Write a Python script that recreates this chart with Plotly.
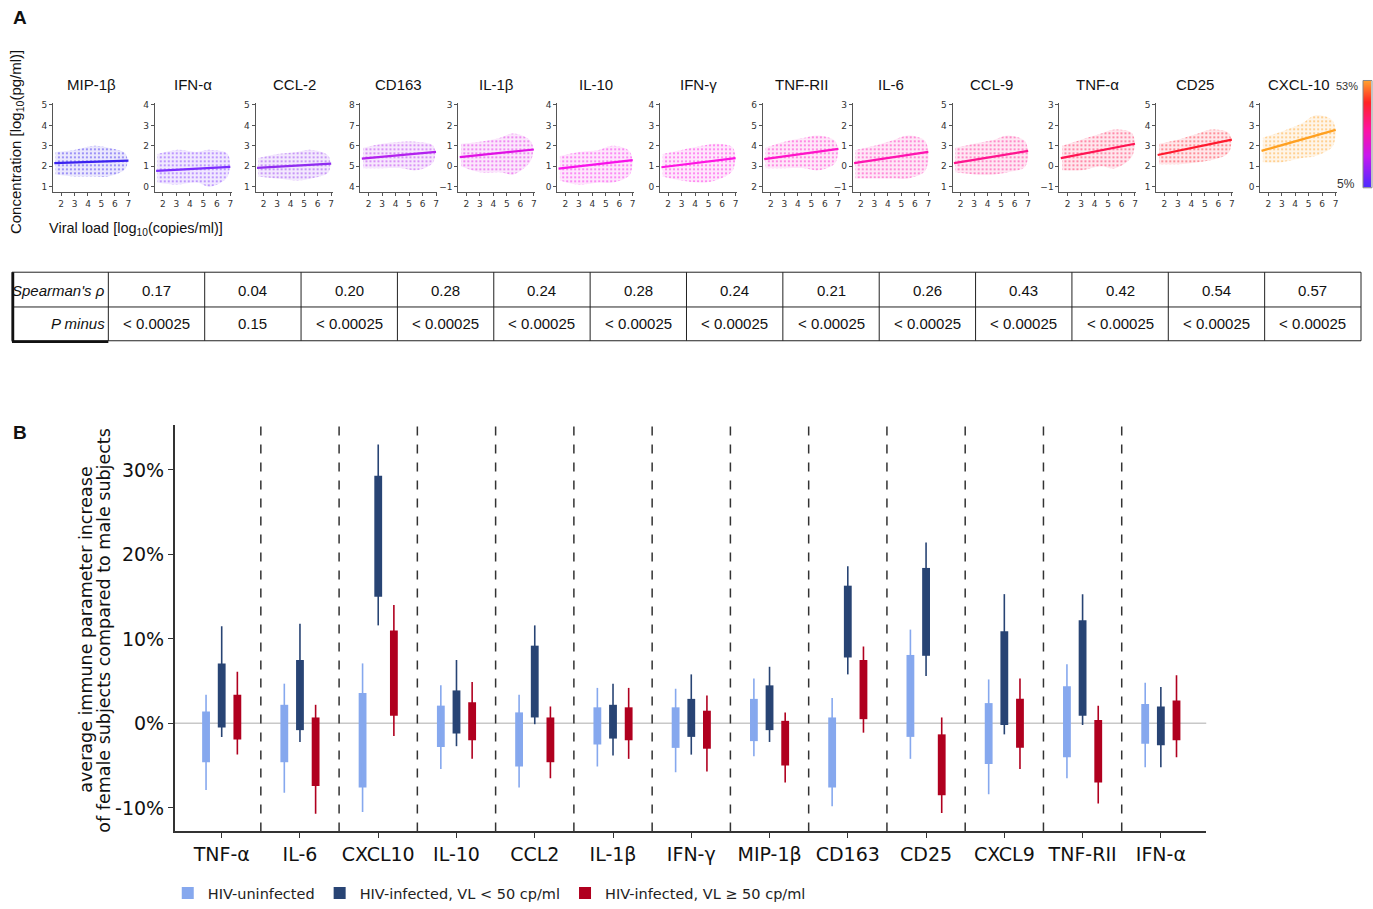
import plotly.graph_objects as go

W, H = 1373, 909

# ---------------- Panel A data ----------------
a_names = ["MIP-1β", "IFN-α", "CCL-2", "CD163", "IL-1β", "IL-10", "IFN-γ",
           "TNF-RII", "IL-6", "CCL-9", "TNF-α", "CD25", "CXCL-10"]
a_ytick_min = [1, 0, 1, 4, -1, 0, 0, 2, -1, 1, -1, 1, 0]
a_ytick_max = [5, 4, 5, 8, 3, 4, 4, 6, 3, 5, 3, 5, 4]
a_line_x = [1.5, 7.0]
a_line_start = [2.15, 0.77, 1.92, 5.37, 0.45, 0.88, 0.95, 3.35, 0.15, 2.15, 0.40, 2.55, 1.75]
a_line_end = [2.27, 0.97, 2.13, 5.70, 0.82, 1.30, 1.40, 3.85, 0.70, 2.75, 1.10, 3.30, 2.78]
cloud_x = [1.6, 3.0, 4.5, 5.5, 6.8]
cloud_lo = [[1.6, 1.5, 1.5, 1.5, 1.9], [0.2, 0.1, 0.2, 0.0, 0.5], [1.5, 1.4, 1.3, 1.4, 1.7],
            [4.9, 4.9, 4.9, 4.8, 5.2], [0.0, -0.3, -0.3, -0.4, 0.3], [0.3, 0.1, 0.2, 0.2, 0.6],
            [0.5, 0.3, 0.2, 0.3, 0.8], [2.9, 2.9, 2.9, 2.8, 3.2], [-0.6, -0.6, -0.6, -0.6, -0.2],
            [1.7, 1.6, 1.6, 1.7, 2.0], [-0.2, -0.2, 0.0, -0.1, 0.5], [2.1, 2.1, 2.2, 2.3, 2.7],
            [1.2, 1.2, 1.4, 1.5, 2.0]]
cloud_hi = [[2.7, 2.8, 3.0, 2.9, 2.6], [1.6, 1.8, 1.7, 1.8, 1.6], [2.4, 2.6, 2.7, 2.8, 2.5],
            [5.9, 6.1, 6.2, 6.2, 6.0], [1.1, 1.2, 1.4, 1.6, 1.2], [1.5, 1.7, 1.8, 2.0, 1.7],
            [1.6, 1.8, 2.0, 2.1, 1.9], [3.9, 4.2, 4.4, 4.5, 4.2], [0.8, 1.0, 1.3, 1.5, 1.2],
            [2.9, 3.1, 3.3, 3.5, 3.2], [1.0, 1.3, 1.6, 1.8, 1.6], [3.1, 3.3, 3.6, 3.8, 3.6],
            [2.4, 2.7, 3.1, 3.5, 3.2]]
a_colors = ["#3a22f0", "#7a2cff", "#8f2cf0", "#b222ee", "#e012e4", "#f812ea", "#ff14e2",
            "#ff14c8", "#ff14b0", "#ff148e", "#ff1452", "#ff1a2e", "#ffa020"]
cbar_min, cbar_max = 5, 53

spearman = ["0.17", "0.04", "0.20", "0.28", "0.24", "0.28", "0.24", "0.21", "0.26",
            "0.43", "0.42", "0.54", "0.57"]
pvals = ["< 0.00025", "0.15", "< 0.00025", "< 0.00025", "< 0.00025", "< 0.00025",
         "< 0.00025", "< 0.00025", "< 0.00025", "< 0.00025", "< 0.00025", "< 0.00025",
         "< 0.00025"]

# ---------------- Panel B data ----------------
b_cats = ["TNF-α", "IL-6", "CXCL10", "IL-10", "CCL2", "IL-1β", "IFN-γ", "MIP-1β",
          "CD163", "CD25", "CXCL9", "TNF-RII", "IFN-α"]
uninf_box_hi = [1.4, 2.2, 3.6, 2.1, 1.3, 1.9, 1.9, 2.9, 0.7, 8.1, 2.4, 4.4, 2.3]
uninf_box_lo = [-4.6, -4.6, -7.6, -2.8, -5.1, -2.5, -2.9, -2.1, -7.6, -1.6, -4.8, -4.0, -2.4]
uninf_wh_hi = [3.4, 4.7, 7.1, 4.5, 3.4, 4.2, 4.1, 5.3, 3.0, 11.1, 5.2, 7.0, 4.8]
uninf_wh_lo = [-7.9, -8.2, -10.5, -5.4, -7.6, -5.1, -5.8, -3.9, -9.8, -4.2, -8.4, -6.5, -5.2]

low_box_hi = [7.1, 7.5, 29.3, 3.9, 9.2, 2.2, 2.9, 4.5, 16.3, 18.4, 10.9, 12.2, 2.0]
low_box_lo = [-0.5, -0.8, 15.0, -1.2, 0.7, -1.8, -1.6, -0.8, 7.8, 8.0, -0.2, 0.9, -2.6]
low_wh_hi = [11.5, 11.8, 33.0, 7.5, 11.6, 4.7, 5.8, 6.7, 18.6, 21.4, 15.3, 15.3, 4.3]
low_wh_lo = [-1.6, -2.2, 11.6, -2.7, -0.1, -3.8, -3.7, -2.2, 5.8, 5.6, -1.3, -0.2, -5.2]

high_box_hi = [3.4, 0.7, 11.0, 2.5, 0.7, 1.9, 1.5, 0.3, 7.5, -1.3, 2.9, 0.4, 2.7]
high_box_lo = [-1.9, -7.4, 0.9, -2.0, -4.6, -2.0, -3.0, -5.0, 0.5, -8.5, -2.9, -7.0, -2.0]
high_wh_hi = [6.1, 2.2, 14.0, 4.9, 2.0, 4.2, 3.3, 1.3, 9.1, 0.7, 5.3, 2.1, 5.7]
high_wh_lo = [-3.7, -10.7, -1.5, -4.2, -6.5, -4.2, -5.7, -7.0, -1.1, -10.6, -5.4, -9.5, -4.0]

groups = [
    ("HIV-uninfected", "#86a8ee", uninf_box_lo, uninf_box_hi, uninf_wh_lo, uninf_wh_hi, -0.2),
    ("HIV-infected, VL < 50 cp/ml", "#284474", low_box_lo, low_box_hi, low_wh_lo, low_wh_hi, 0.0),
    ("HIV-infected, VL ≥ 50 cp/ml", "#b0001f", high_box_lo, high_box_hi, high_wh_lo, high_wh_hi, 0.2),
]


def px(x):
    return x / W


def py(y):
    return 1 - y / H


def rgba(hexc, a):
    h = hexc.lstrip("#")
    r, g, b = int(h[0:2], 16), int(h[2:4], 16), int(h[4:6], 16)
    return f"rgba({r},{g},{b},{a})"


fig = go.Figure()
layout = {}
annotations = []
shapes = []


def note(text, x, y, size, family, color="#111", xanchor="center", angle=0):
    annotations.append(dict(text=text, x=px(x), y=py(y), xref="paper", yref="paper",
                            xanchor=xanchor, yanchor="middle", showarrow=False, textangle=angle,
                            font=dict(size=size, family=family, color=color)))


FA = "Liberation Sans, Arial, sans-serif"
FB = "DejaVu Sans, sans-serif"

# ---------------- Panel A ----------------
a_left = [53, 155, 256, 361, 459, 558, 661, 764, 854, 954, 1061, 1158, 1262]
a_w = 77
a_top, a_bot = 101, 190
for k, name in enumerate(a_names):
    n = k + 2
    xa, ya = f"x{n}", f"y{n}"
    col = a_colors[k]
    fig.add_trace(go.Scatter(
        x=cloud_x + cloud_x[::-1],
        y=cloud_hi[k] + cloud_lo[k][::-1],
        fill="toself", mode="lines", line=dict(width=0, shape="spline"),
        fillcolor=rgba(col, 0.12),
        fillpattern=dict(shape=".", fgcolor=col, bgcolor=rgba(col, 0.10), size=4, solidity=0.22,
                         fgopacity=0.55),
        xaxis=xa, yaxis=ya, showlegend=False, hoverinfo="skip"))
    fig.add_trace(go.Scatter(
        x=a_line_x, y=[a_line_start[k], a_line_end[k]], mode="lines",
        line=dict(color=col, width=2.2), xaxis=xa, yaxis=ya, showlegend=False))
    layout[f"xaxis{n}"] = dict(
        domain=[px(a_left[k]), px(a_left[k] + a_w)], anchor=ya, range=[1.4, 7.1],
        tickvals=[2, 3, 4, 5, 6, 7], showline=True, linecolor="#555", linewidth=1,
        ticks="outside", ticklen=3, tickcolor="#555", showgrid=False, zeroline=False,
        tickfont=dict(size=9, color="#333", family=FB))
    layout[f"yaxis{n}"] = dict(
        domain=[py(a_bot), py(a_top)], anchor=xa,
        range=[a_ytick_min[k] - 0.25, a_ytick_max[k] + 0.08],
        tickvals=list(range(a_ytick_min[k], a_ytick_max[k] + 1)),
        showline=True, linecolor="#555", linewidth=1, ticks="outside", ticklen=3,
        tickcolor="#555", showgrid=False, zeroline=False,
        tickfont=dict(size=9, color="#333", family=FB))
    note(name, a_left[k] + a_w / 2, 82, 15, FA)

# colour bar
fig.add_trace(go.Heatmap(z=[[cbar_min, cbar_min], [cbar_max, cbar_max]], x=[0, 1],
                         y=[cbar_min, cbar_max], zsmooth="best", showscale=False,
                         colorscale=[[0, "#4a2cff"], [0.3, "#c818f0"], [0.55, "#ff14a0"],
                                     [0.8, "#ff2424"], [1, "#ffa030"]],
                         xaxis="x15", yaxis="y15", hoverinfo="skip"))
layout["xaxis15"] = dict(domain=[px(1365), 1], anchor="y15", visible=False, range=[0, 1])
layout["yaxis15"] = dict(domain=[py(186), py(78)], anchor="x15", visible=False,
                         range=[cbar_min, cbar_max])
shapes.append(dict(type="rect", xref="paper", yref="paper", x0=px(1365), x1=px(1374),
                   y0=py(186), y1=py(78), line=dict(color="#888", width=1)))
note("53%", 1362, 84, 11, FA, "#333", "right")
note("5%", 1359, 182, 12, FA, "#333", "right")

note("<b>A</b>", 11, 15, 19, FA, "#111", "left")
note("Concentration [log<sub>10</sub>(pg/ml)]", 16, 140, 15, FA, angle=-90)
note("Viral load [log<sub>10</sub>(copies/ml)]", 47, 227, 14.5, FA, "#111", "left")

# ---------------- Table ----------------
t_left, t_right = 12, 1363
t_rows = [271, 306, 340]
ncol = 14
cw = (t_right - t_left) / ncol
for yv in t_rows:
    shapes.append(dict(type="line", xref="paper", yref="paper", x0=px(t_left), x1=px(t_right),
                       y0=py(yv), y1=py(yv), line=dict(color="#222", width=1)))
for c in range(ncol + 1):
    xv = t_left + c * cw
    shapes.append(dict(type="line", xref="paper", yref="paper", x0=px(xv), x1=px(xv),
                       y0=py(t_rows[0]), y1=py(t_rows[-1]), line=dict(color="#222", width=1)))
shapes.append(dict(type="line", xref="paper", yref="paper", x0=px(t_left + 1), x1=px(t_left + 1),
                   y0=py(t_rows[0]), y1=py(t_rows[-1] + 1), line=dict(color="#111", width=2.5)))
shapes.append(dict(type="line", xref="paper", yref="paper", x0=px(t_left), x1=px(t_left + cw),
                   y0=py(t_rows[-1] + 1), y1=py(t_rows[-1] + 1), line=dict(color="#111", width=2.5)))
FT = "Liberation Sans Narrow, Arial Narrow, Liberation Sans, sans-serif"
note("<i>Spearman's ρ</i>", t_left + cw - 1, 289, 15, FT, "#111", "right")
note("<i>P minus</i>", t_left + cw - 1, 323, 15, FT, "#111", "right")
for c in range(13):
    xc = t_left + (c + 1.5) * cw
    note(spearman[c], xc, 289, 15, FT)
    note(pvals[c], xc, 323, 15, FT)

# ---------------- Panel B ----------------
idx = list(range(len(b_cats)))
for name, col, blo, bhi, wlo, whi, off in groups:
    xs, ys = [], []
    for i in idx:
        xs += [i + off, i + off, None]
        ys += [wlo[i], whi[i], None]
    fig.add_trace(go.Scatter(x=xs, y=ys, mode="lines", line=dict(color=col, width=1.6),
                             showlegend=False, hoverinfo="skip", xaxis="x", yaxis="y"))
for name, col, blo, bhi, wlo, whi, off in groups:
    fig.add_trace(go.Bar(x=[i + off for i in idx], y=[bhi[i] - blo[i] for i in idx], base=blo,
                         width=0.1, marker=dict(color=col, line=dict(width=0)), name=name,
                         xaxis="x", yaxis="y"))

layout["xaxis"] = dict(domain=[px(175), px(1208)], anchor="y", range=[-0.6, 12.58],
                       tickvals=idx, ticktext=b_cats, showline=True, linecolor="#333",
                       linewidth=1.6, ticks="outside", ticklen=5, tickcolor="#333",
                       showgrid=False, zeroline=False,
                       tickfont=dict(size=19, family=FB, color="#111"))
layout["yaxis"] = dict(domain=[py(834), py(425)], anchor="x", range=[-12.8, 35.3],
                       tickvals=[-10, 0, 10, 20, 30], ticktext=["-10%", "0%", "10%", "20%", "30%"],
                       showline=True, linecolor="#333", linewidth=1.6, ticks="outside",
                       ticklen=5, tickcolor="#333", showgrid=False, zeroline=False,
                       tickfont=dict(size=19, family=FB, color="#111"))
shapes.append(dict(type="line", xref="x domain", yref="y", x0=0, x1=1, y0=0, y1=0,
                   line=dict(color="#c8c8c8", width=1.5), layer="below"))
for i in idx[:-1]:
    shapes.append(dict(type="line", xref="x", yref="y domain", x0=i + 0.5, x1=i + 0.5, y0=0, y1=1,
                       line=dict(color="#333", width=1.5, dash="dash"), layer="below"))

note("<b>B</b>", 11, 432, 19, FA, "#111", "left")
note("average immune parameter increase", 86, 631, 17.5, FB, angle=-90)
note("of female subjects compared to male subjects", 104, 631, 17.5, FB, angle=-90)

fig.update_layout(
    width=W, height=H, autosize=False, margin=dict(l=0, r=0, t=0, b=0),
    paper_bgcolor="white", plot_bgcolor="white", barmode="overlay",
    annotations=annotations, shapes=shapes,
    legend=dict(orientation="h", x=px(168), y=py(896), xanchor="left", yanchor="middle",
                font=dict(size=14.5, family=FB, color="#222"), bgcolor="rgba(0,0,0,0)",
                itemwidth=30, tracegroupgap=0),
    **layout)

fig.write_html("out.html")
